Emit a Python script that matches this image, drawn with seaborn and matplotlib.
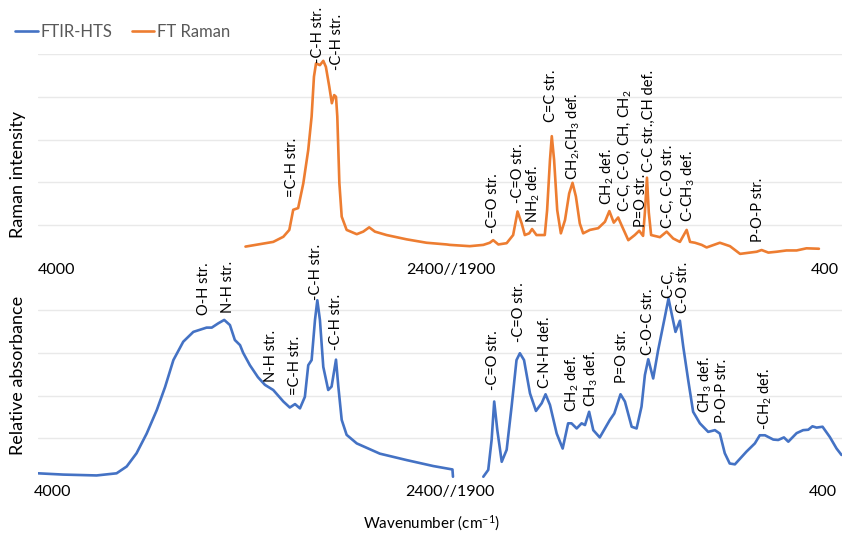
import numpy as np
import pandas as pd
import matplotlib
matplotlib.use("Agg")
import matplotlib.pyplot as plt
import seaborn as sns

# ---------------- data ----------------
# FT Raman (wavenumber, intensity)
raman_wn = [3200, 3093, 3054, 3031, 3016, 2997, 2977, 2958, 2945, 2936, 2928, 2913, 2900, 2890,
            2877, 2867, 2858, 2851, 2846, 2838, 2829, 2810, 2771, 2746, 2723, 2701, 2656, 2579,
            2502, 2424, 2412,
            1835, 1783, 1758, 1745, 1725, 1693, 1668, 1651, 1635, 1623, 1606, 1595, 1578, 1546,
            1537, 1526, 1519, 1510, 1498, 1484, 1468, 1452, 1439, 1426, 1411, 1398, 1372, 1340,
            1314, 1297, 1280, 1263, 1250, 1224, 1199, 1182, 1167, 1160, 1152, 1145, 1136, 1102,
            1076, 1051, 1025, 999, 986, 967, 941, 922, 871, 832, 793, 755, 729, 710, 684, 652,
            614, 575, 537, 489]
raman_val = [0.50, 0.61, 0.73, 0.89, 1.36, 1.40, 1.98, 2.76, 3.54, 4.47, 4.78, 4.74, 4.84, 4.70,
             4.24, 3.85, 4.04, 4.00, 3.54, 1.98, 1.20, 0.89, 0.79, 0.85, 0.95, 0.85, 0.77, 0.67,
             0.59, 0.55, 0.54,
             0.51, 0.54, 0.59, 0.65, 0.55, 0.58, 0.77, 1.32, 1.04, 0.77, 0.81, 0.91, 0.77, 0.77,
             1.35, 2.52, 3.08, 2.52, 1.35, 0.81, 1.12, 1.74, 1.99, 1.67, 1.04, 0.81, 0.89, 0.93,
             1.08, 1.33, 1.06, 1.18, 1.00, 0.65, 0.77, 0.87, 0.75, 1.30, 2.11, 1.30, 0.77, 0.72,
             0.85, 0.69, 0.61, 0.89, 0.61, 0.59, 0.54, 0.48, 0.59, 0.51, 0.33, 0.36, 0.38, 0.42,
             0.36, 0.38, 0.41, 0.41, 0.46, 0.45]

# FTIR-HTS, high-wavenumber part
ir_hi_wn = [4000, 3902, 3774, 3697, 3658, 3620, 3581, 3542, 3510, 3478, 3440, 3401, 3350, 3330,
            3305, 3282, 3260, 3241, 3221, 3209, 3183, 3152, 3125, 3093, 3054, 3029, 3009, 2990,
            2971, 2958, 2945, 2932, 2923, 2913, 2900, 2881, 2868, 2851, 2842, 2829, 2810, 2771,
            2682, 2579, 2476, 2402, 2400]
ir_hi_val = [0.18, 0.15, 0.13, 0.18, 0.34, 0.65, 1.11, 1.66, 2.20, 2.83, 3.26, 3.49, 3.59, 3.59,
             3.69, 3.77, 3.65, 3.30, 3.18, 3.00, 2.71, 2.43, 2.25, 2.13, 1.86, 1.72, 1.80, 1.70,
             1.97, 2.71, 2.83, 3.77, 4.23, 3.77, 2.67, 2.13, 2.21, 2.84, 2.21, 1.43, 1.08, 0.88,
             0.64, 0.49, 0.35, 0.27, 0.10]

# FTIR-HTS, fingerprint part
ir_lo_wn = [1783, 1764, 1751, 1741, 1729, 1712, 1693, 1674, 1655, 1642, 1626, 1603, 1580, 1558,
            1543, 1526, 1500, 1477, 1456, 1443, 1423, 1404, 1391, 1375, 1359, 1334, 1295, 1278,
            1254, 1237, 1211, 1192, 1173, 1160, 1147, 1128, 1109, 1083, 1069, 1057, 1042, 1025,
            1012, 993, 974, 948, 916, 890, 871, 852, 833, 813, 768, 736, 717, 697, 665, 646,
            624, 607, 575, 550, 530, 514, 498, 475, 447, 421, 402]
ir_lo_val = [0.10, 0.26, 0.96, 1.86, 1.19, 0.45, 0.73, 1.74, 2.83, 2.99, 2.83, 2.05, 1.64, 1.82,
             2.03, 1.78, 1.11, 0.76, 1.35, 1.35, 1.23, 1.35, 1.31, 1.62, 1.19, 1.02, 1.43, 1.58,
             2.03, 1.86, 1.27, 1.23, 1.74, 2.48, 2.85, 2.40, 3.06, 3.84, 4.27, 3.92, 3.49, 3.75,
             3.14, 2.36, 1.62, 1.35, 1.15, 1.19, 1.11, 0.65, 0.41, 0.39, 0.69, 0.88, 1.07, 1.07,
             0.97, 0.96, 1.02, 0.92, 1.12, 1.19, 1.20, 1.28, 1.25, 1.27, 1.03, 0.76, 0.61]

series_names = ["FTIR-HTS", "FT Raman"]
tick_labels = ["4000", "2400//1900", "400"]

raman_ann_text = ["=C-H str.", "-C-H str.", "-C-H str.", "-C=O str.", "-C=O str.", "NH$_2$ def.",
                  "C=C str.", "CH$_2$,CH$_3$ def.", "CH$_2$ def.", "C-C, C-O, CH, CH$_2$",
                  "P=O str.", "C-C str.,CH def.", "C-C, C-O str.", "C-CH$_3$ def.", "P-O-P str."]
raman_ann_wn = [3021, 2921, 2847, 1746, 1650, 1592, 1522, 1438, 1305, 1237, 1176, 1146, 1071, 994, 724]
raman_ann_y = [1.66, 4.79, 4.63, 0.82, 1.52, 1.05, 3.41, 2.06, 1.47, 1.31, 0.96, 2.24, 0.93, 1.07, 0.61]

ir_ann_text = ["O-H str.", "N-H str.", "N-H str.", "=C-H str.", "-C-H str.", "-C-H str.",
               "-C=O str.", "-C=O str.", "C-N-H def.", "CH$_2$ def.", "CH$_3$ def.", "P=O str.",
               "C-O-C str.", "C-C,", "C-O str.", "CH$_3$ def.", "P-O-P str.", "-CH$_2$ def."]
ir_ann_wn = [3360, 3268, 3102, 3009, 2928, 2851, 1746, 1646, 1546, 1441, 1368, 1249, 1148,
             1071, 1014, 929, 863, 697]
ir_ann_y = [3.88, 3.93, 2.32, 2.01, 4.23, 3.06, 2.13, 3.25, 2.18, 1.61, 1.73, 2.29, 2.95,
            4.28, 3.93, 1.59, 1.36, 1.19]

# ---------------- style ----------------
W, H = 842, 535
sns.set_theme(style="white")
plt.rcParams["font.family"] = ["Lato", "DejaVu Sans"]
plt.rcParams["mathtext.fontset"] = "custom"
plt.rcParams["mathtext.rm"] = "Lato"
plt.rcParams["mathtext.it"] = "Lato:italic"
plt.rcParams["mathtext.bf"] = "Lato:bold"

BLUE = "#4472C4"
ORANGE = "#ED7D31"
TXT = "#000000"
GRID = "#e9e9e9"


def to_pos(wn):
    wn = np.asarray(wn, float)
    return np.where(wn >= 2400, 4000 - wn, 1600 + 1900 - wn)


fig = plt.figure(figsize=(W / 100, H / 100), dpi=100)
ax_top = fig.add_axes([38 / W, 1 - 268 / H, 804 / W, 214 / H])
ax_bot = fig.add_axes([38 / W, 1 - 481 / H, 804 / W, 188 / H])

for ax, ymax, ticks in [(ax_top, 5.0, [1, 2, 3, 4, 5]), (ax_bot, 4.4, [1, 2, 3, 4])]:
    ax.set_xlim(0, 3100)
    ax.set_ylim(0, ymax)
    ax.set_yticks(ticks)
    ax.set_xticks([])
    ax.tick_params(left=False, labelleft=False, bottom=False, labelbottom=False)
    ax.yaxis.grid(True, color=GRID, lw=1.0)
    ax.set_axisbelow(True)
    for s in ax.spines.values():
        s.set_visible(False)
    ax.patch.set_alpha(0)

df_raman = pd.DataFrame({"pos": to_pos(raman_wn), "val": raman_val})
df_ir_hi = pd.DataFrame({"pos": to_pos(ir_hi_wn), "val": ir_hi_val})
df_ir_lo = pd.DataFrame({"pos": to_pos(ir_lo_wn), "val": ir_lo_val})

sns.lineplot(data=df_raman, x="pos", y="val", ax=ax_top, color=ORANGE, lw=1.9,
             sort=False, estimator=None, legend=False)
sns.lineplot(data=df_ir_hi, x="pos", y="val", ax=ax_bot, color=BLUE, lw=1.9,
             sort=False, estimator=None, legend=False)
sns.lineplot(data=df_ir_lo, x="pos", y="val", ax=ax_bot, color=BLUE, lw=1.9,
             sort=False, estimator=None, legend=False)
for ax in (ax_top, ax_bot):
    ax.set_xlabel("")
    ax.set_ylabel("")
    for ln in ax.lines:
        ln.set_solid_joinstyle("round")
        ln.set_solid_capstyle("round")

ANN_FS = 10.5
for t, w, y in zip(raman_ann_text, raman_ann_wn, raman_ann_y):
    ax_top.text(float(to_pos(w)), y, t, rotation=90, ha="center", va="bottom",
                fontsize=ANN_FS, color=TXT)
for t, w, y in zip(ir_ann_text, ir_ann_wn, ir_ann_y):
    ax_bot.text(float(to_pos(w)), y, t, rotation=90, ha="center", va="bottom",
                fontsize=ANN_FS, color=TXT)


def fx(px):
    return px / W


def fy(py):
    return 1 - py / H


TICK_FS = 11.5
for lab, x in zip(tick_labels, [57, 451, 825]):
    fig.text(fx(x), fy(270), lab, ha="center", va="center", fontsize=TICK_FS, color=TXT)
for lab, x in zip(tick_labels, [53, 450, 823]):
    fig.text(fx(x), fy(492), lab, ha="center", va="center", fontsize=TICK_FS, color=TXT)

fig.text(fx(18), fy(175), "Raman intensity", rotation=90, ha="center", va="center",
         fontsize=13, color=TXT)
fig.text(fx(18), fy(375), "Relative absorbance", rotation=90, ha="center", va="center",
         fontsize=13, color=TXT)
fig.text(fx(432), fy(523), "Wavenumber (cm$^{-1}$)", ha="center", va="center",
         fontsize=11, color=TXT)

handles = [ax_bot.lines[0], ax_top.lines[0]]
fig.legend(handles=handles, labels=series_names, loc="center left",
           bbox_to_anchor=(fx(15), fy(32)), ncol=2, frameon=False, fontsize=12,
           handlelength=1.35, handletextpad=0.15, columnspacing=1.2,
           borderpad=0, borderaxespad=0, labelcolor="#595959")

fig.savefig("out.png", dpi=100)
